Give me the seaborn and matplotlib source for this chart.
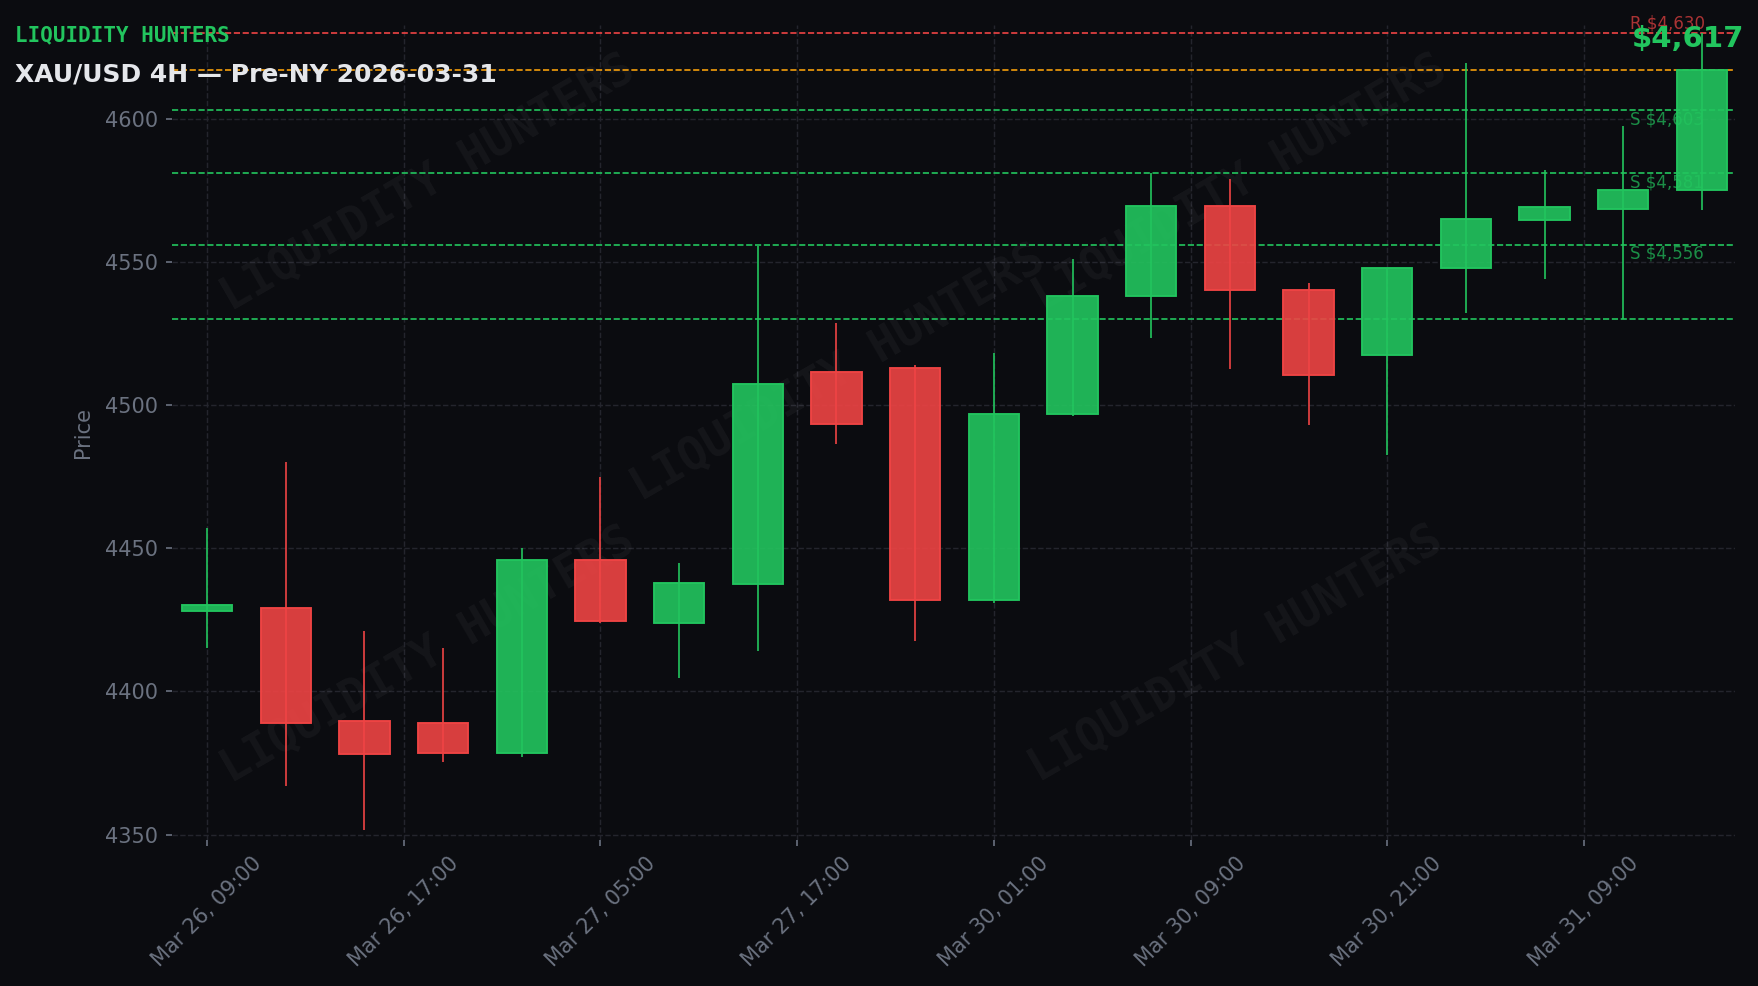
import matplotlib
matplotlib.use("Agg")
import matplotlib.pyplot as plt
import matplotlib.transforms as mtransforms
import seaborn as sns
import pandas as pd

# 4H candles, XAU/USD
times = [
    "2026-03-26 09:00", "2026-03-26 13:00", "2026-03-26 17:00", "2026-03-26 21:00",
    "2026-03-27 01:00", "2026-03-27 05:00", "2026-03-27 09:00", "2026-03-27 13:00",
    "2026-03-27 17:00", "2026-03-27 21:00", "2026-03-30 01:00", "2026-03-30 05:00",
    "2026-03-30 09:00", "2026-03-30 13:00", "2026-03-30 17:00", "2026-03-30 21:00",
    "2026-03-31 01:00", "2026-03-31 05:00", "2026-03-31 09:00", "2026-03-31 13:00",
]
opens = [4428, 4429, 4389.5, 4389, 4378.5, 4446, 4424, 4437.5, 4511.5, 4513,
         4432, 4497, 4538, 4569.5, 4540, 4517.5, 4548, 4564.5, 4568.5, 4575]
highs = [4457, 4480, 4421, 4415, 4450, 4475, 4445, 4555.5, 4528.5, 4514,
         4518, 4551, 4581, 4579, 4542.5, 4548, 4619.5, 4582, 4597.5, 4630]
lows = [4415, 4367, 4351.5, 4375.5, 4377, 4424, 4404.5, 4414, 4486.5, 4417.5,
        4431, 4496, 4523.5, 4512.5, 4493, 4482.5, 4532, 4544, 4530, 4568]
closes = [4430, 4389, 4378, 4378.5, 4446, 4424.5, 4438, 4507.5, 4493.5, 4432,
          4497, 4538, 4569.5, 4540, 4510.5, 4548, 4565, 4569, 4575, 4617]

resistance = [4630]
supports = [4603, 4581, 4556]
sweep_level = [4530]
last_price = 4617
tick_idx = [0, 2.5, 5, 7.5, 10, 12.5, 15, 17.5]
y_ticks = [4350, 4400, 4450, 4500, 4550, 4600]

BG = "#0b0c10"
GREEN = "#22c55e"
RED = "#ef4444"
ORANGE = "#f59e0b"
MUTED = "#6b7280"
GRID = "#24252d"

df = pd.DataFrame({"time": pd.to_datetime(times), "open": opens, "high": highs,
                   "low": lows, "close": closes})
df["up"] = df["close"] >= df["open"]
df["color"] = df["up"].map({True: GREEN, False: RED})

sns.set_theme(style="dark", rc={
    "figure.facecolor": BG, "axes.facecolor": BG, "savefig.facecolor": BG,
    "axes.edgecolor": BG, "grid.color": GRID, "grid.linestyle": "--",
    "grid.linewidth": 0.7, "axes.grid": True,
    "xtick.color": MUTED, "ytick.color": MUTED, "axes.labelcolor": MUTED,
    "xtick.bottom": True, "ytick.left": True,
})
plt.rcParams["font.family"] = ["DejaVu Sans"]

W, H, DPI = 1758, 986, 150
fig = plt.figure(figsize=(W / DPI, H / DPI), dpi=DPI)
ax = fig.add_axes([172 / W, (H - 840) / H, (1735 - 172) / W, (840 - 25) / H])

x = df.index.values
ax.vlines(x, df["low"], df["high"], colors=df["color"], linewidth=0.8, zorder=3)
body_lo = df[["open", "close"]].min(axis=1)
body_hi = df[["open", "close"]].max(axis=1)
ax.bar(x, body_hi - body_lo, bottom=body_lo, width=0.64, color=df["color"],
       edgecolor=df["color"], linewidth=0.9, zorder=4)
for bar, c in zip(ax.patches, df["color"]):
    bar.set_facecolor(matplotlib.colors.to_rgba(c, 0.9))
    bar.set_edgecolor(c)

lbl_tr = mtransforms.blended_transform_factory(ax.transAxes, ax.transData)
for lv in resistance:
    ax.axhline(lv, color=RED, linestyle="--", linewidth=0.8, zorder=2)
    ax.text(0.933, lv, f"R ${lv:,.0f}", transform=lbl_tr, color=RED, alpha=0.7,
            fontsize=8, ha="left", va="bottom")
ax.axhline(last_price, color=ORANGE, linestyle="--", linewidth=0.8, zorder=2)
for lv in supports:
    ax.axhline(lv, color=GREEN, linestyle="--", linewidth=0.8, zorder=2)
    ax.text(0.933, lv, f"S ${lv:,.0f}", transform=lbl_tr, color=GREEN, alpha=0.7,
            fontsize=8, ha="left", va="top")
for lv in sweep_level:
    ax.axhline(lv, color=GREEN, linestyle="--", linewidth=0.8, zorder=2)

ax.set_xlim(-0.445, 19.42)
ax.set_ylim(4348.1, 4632.7)
ax.set_yticks(y_ticks)
ax.set_xticks(tick_idx)
ax.set_xticklabels([df["time"][round(i)].strftime("%b %d, %H:%M") for i in tick_idx],
                   rotation=45)
ax.tick_params(axis="both", labelsize=10, length=3, width=0.8, color=MUTED)
ax.set_ylabel("Price", fontsize=10, labelpad=6)
ax.set_xlabel("")
sns.despine(ax=ax, left=True, bottom=True)

# watermark
for wx, wy in [(0.164, 0.806), (0.683, 0.806), (0.426, 0.573), (0.164, 0.227), (0.681, 0.228)]:
    ax.text(wx, wy, "LIQUIDITY HUNTERS", transform=ax.transAxes, rotation=30,
            ha="center", va="center", fontsize=22, fontweight="bold",
            family="DejaVu Sans Mono", color="white", alpha=0.045, zorder=1)

fig.text(15 / W, 1 - 35.5 / H, "LIQUIDITY HUNTERS", color=GREEN, fontsize=10,
         fontweight="bold", family="DejaVu Sans Mono", ha="left", va="center")
fig.text(15 / W, 1 - 75 / H, "XAU/USD 4H \u2014 Pre-NY 2026-03-31", color="#e5e7eb",
         fontsize=12, fontweight="bold", ha="left", va="center")
fig.text(1744 / W, 1 - 39 / H, f"${last_price:,.0f}", color=GREEN, fontsize=14,
         fontweight="bold", ha="right", va="center")

fig.savefig("out.png", dpi=DPI, facecolor=BG)
